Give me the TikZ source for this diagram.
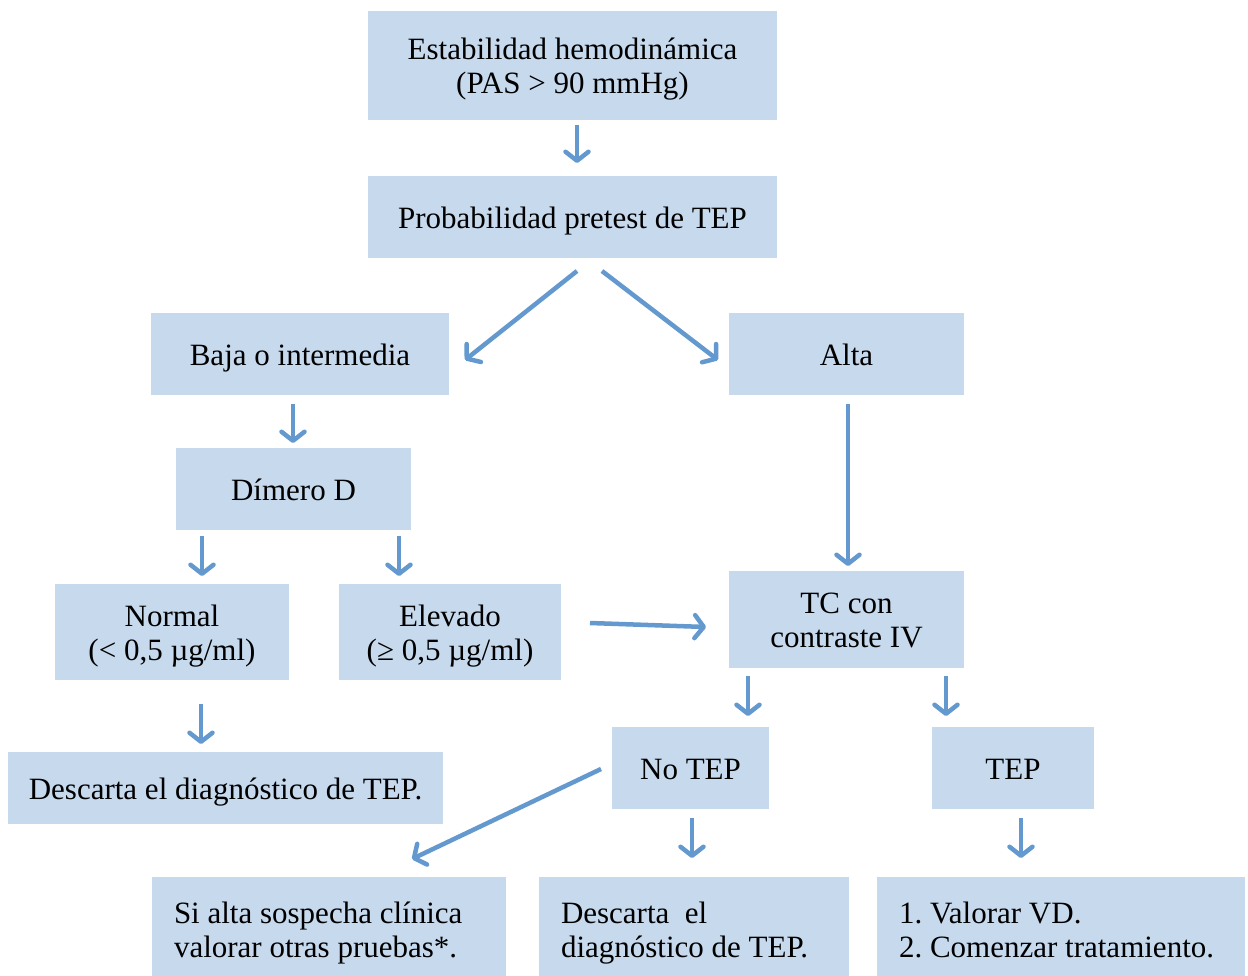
\documentclass[tikz,border=0pt]{standalone}
\usepackage{fontspec}
\setmainfont{Liberation Serif}
\usetikzlibrary{arrows.meta}
\definecolor{boxfill}{RGB}{198,217,237}
\definecolor{arrowblue}{RGB}{99,153,206}
% text block of one or more lines, drawn a little low while keeping its size
\newcommand\boxlines[2][c]{\raisebox{-4.5pt}[\height][\depth]{\begin{tabular}{@{}#1@{}}#2\end{tabular}}}
\tikzset{
  box/.style={rectangle, fill=boxfill, draw=none, inner sep=0pt, outer sep=0pt,
    align=center, font=\fontsize{31}{34}\selectfont\frenchspacing},
  leftbox/.style={box, align=flush left, inner xsep=22pt, anchor=north west},
  flow/.style={draw=arrowblue, line width=4.5pt,
    -{Straight Barb[length=9pt, width=23pt, line cap=round, line join=round]}}
}
\begin{document}
\begin{tikzpicture}[x=1pt, y=-1pt]
\useasboundingbox (0,0) rectangle (1248,975);

% boxes
\node[box, minimum width=409pt, minimum height=109pt] (estab) at (572.5,65.5)
  {\boxlines{Estabilidad hemodinámica\\(PAS > 90 mmHg)}};
\node[box, minimum width=409pt, minimum height=82pt] (prob) at (572.5,217)
  {\boxlines{Probabilidad pretest de TEP}};
\node[box, minimum width=298pt, minimum height=82pt] (baja) at (300,354)
  {\boxlines{Baja o intermedia}};
\node[box, minimum width=235pt, minimum height=82pt] (alta) at (846.5,354)
  {\boxlines{Alta}};
\node[box, minimum width=235pt, minimum height=82pt] (dimero) at (293.5,489)
  {\boxlines{Dímero D}};
\node[box, minimum width=234pt, minimum height=96pt] (normal) at (172,632)
  {\boxlines{Normal\\(< 0,5 µg/ml)}};
\node[box, minimum width=222pt, minimum height=96pt] (elevado) at (450,632)
  {\boxlines{Elevado\\(≥ 0,5 µg/ml)}};
\node[box, minimum width=235pt, minimum height=97pt] (tc) at (846.5,619.5)
  {\boxlines{TC con\\contraste IV}};
\node[box, minimum width=435pt, minimum height=72pt] (descarta) at (225.5,788)
  {\boxlines{Descarta el diagnóstico de TEP.}};
\node[box, minimum width=157pt, minimum height=82pt] (notep) at (690.5,768)
  {\boxlines{No TEP}};
\node[box, minimum width=162pt, minimum height=82pt] (tep) at (1013,768)
  {\boxlines{TEP}};
\node[leftbox, minimum width=354pt, minimum height=104pt, text width=310pt] (sospecha) at (152,877)
  {\boxlines[l]{Si alta sospecha clínica\\valorar otras pruebas*.}};
\node[leftbox, minimum width=310pt, minimum height=104pt, text width=266pt] (descarta2) at (539,877)
  {\boxlines[l]{Descarta\ \ el\\diagnóstico de TEP.}};
\node[leftbox, minimum width=368pt, minimum height=104pt, text width=324pt] (trat) at (877,877)
  {\boxlines[l]{1. Valorar VD.\\2. Comenzar tratamiento.}};

% arrow end points
\coordinate (a1s) at (577,125);  \coordinate (a1e) at (577,163);
\coordinate (a2s) at (577,271);  \coordinate (a2e) at (465,360);
\coordinate (a3s) at (602,271);  \coordinate (a3e) at (718,360);
\coordinate (a4s) at (293,404);  \coordinate (a4e) at (293,443);
\coordinate (a5s) at (848,404);  \coordinate (a5e) at (848,566);
\coordinate (a6s) at (202,536);  \coordinate (a6e) at (202,576);
\coordinate (a7s) at (399,536);  \coordinate (a7e) at (399,576);
\coordinate (a8s) at (590,623);  \coordinate (a8e) at (706,627);
\coordinate (a9s) at (748,676);  \coordinate (a9e) at (748,716);
\coordinate (a10s) at (946,676); \coordinate (a10e) at (946,716);
\coordinate (a11s) at (201,704); \coordinate (a11e) at (201,744);
\coordinate (a12s) at (601,769); \coordinate (a12e) at (412,859);
\coordinate (a13s) at (692,818); \coordinate (a13e) at (692,858);
\coordinate (a14s) at (1021,818); \coordinate (a14e) at (1021,858);

% connectors
\draw[flow] (a1s) -- (a1e);
\draw[flow] (a2s) -- (a2e);
\draw[flow] (a3s) -- (a3e);
\draw[flow] (a4s) -- (a4e);
\draw[flow] (a5s) -- (a5e);
\draw[flow] (a6s) -- (a6e);
\draw[flow] (a7s) -- (a7e);
\draw[flow] (a8s) -- (a8e);
\draw[flow] (a9s) -- (a9e);
\draw[flow] (a10s) -- (a10e);
\draw[flow] (a11s) -- (a11e);
\draw[flow] (a12s) -- (a12e);
\draw[flow] (a13s) -- (a13e);
\draw[flow] (a14s) -- (a14e);
\end{tikzpicture}
\end{document}
